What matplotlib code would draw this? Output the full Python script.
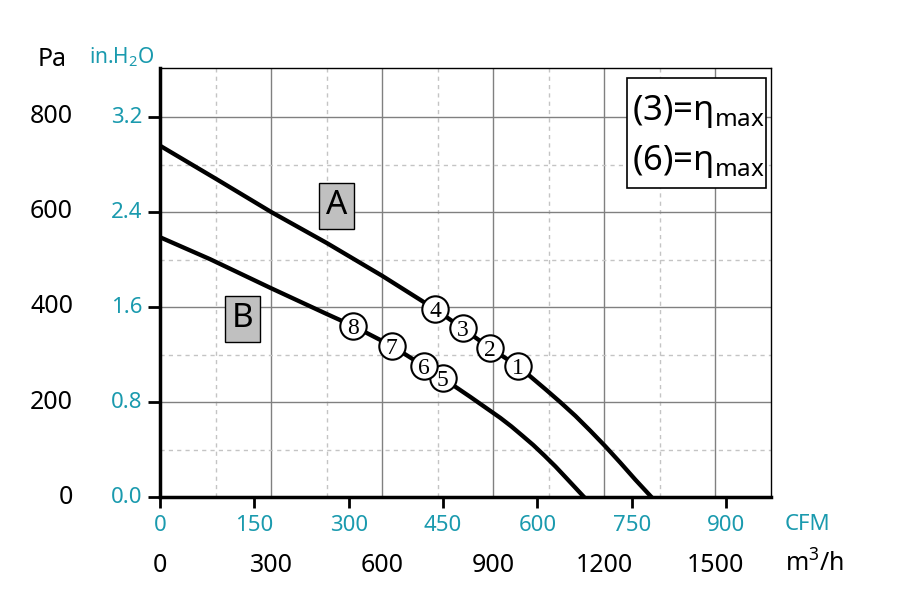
import numpy as np
import matplotlib
matplotlib.use('Agg')
import matplotlib.pyplot as plt
from matplotlib.transforms import offset_copy
from matplotlib.patches import Rectangle

plt.rcParams['font.family'] = ['Noto Sans', 'DejaVu Sans']
plt.rcParams['mathtext.fontset'] = 'custom'
plt.rcParams['mathtext.rm'] = 'Noto Sans'

PA_PER_INH2O = 249.089
M3H_PER_CFM = 1.69901
TEAL = '#1a9aae'

# fan curves, flow in m3/h, pressure in Pa
a_flow = [0, 150, 300, 450, 600, 743, 817, 892, 966, 1000, 1041, 1081, 1122,
          1162, 1203, 1243, 1284, 1327]
a_pres = [737, 668, 598, 533, 464, 394, 354, 312, 275, 253, 226, 199, 170,
          139, 106, 72, 36, 0]
b_flow = [0, 135, 300, 450, 521, 626, 712, 764, 838, 919, 949, 978, 1008,
          1038, 1068, 1097, 1127, 1145]
b_pres = [545, 499, 438, 384, 359, 317, 275, 249, 210, 166, 148, 129, 109,
          87, 64, 40, 15, 0]

# operating points
pt_labels = ['1', '2', '3', '4', '5', '6', '7', '8']
pt_flow = [966, 892, 817, 743, 764, 712, 626, 521]
pt_pres = [275, 312, 354, 394, 249, 275, 317, 359]

pa_ticks = [0, 200, 400, 600, 800]
inh2o_ticks = [0.0, 0.8, 1.6, 2.4, 3.2]
m3h_ticks = [0, 300, 600, 900, 1200, 1500]
cfm_ticks = [0, 150, 300, 450, 600, 750, 900]

fig = plt.figure(figsize=(8.97, 5.97), dpi=100)
ax = fig.add_axes([160 / 897, 100 / 597, 611 / 897, 429 / 597])
ax.set_xlim(0, 1650)
ax.set_ylim(0, 900)

# grid
for k in range(1, 11):
    f = k * 150
    if k % 2 == 0:
        ax.axvline(f, color='#808080', lw=1, zorder=1)
    else:
        ax.axvline(f, color='#c4c4c4', lw=1, ls=(0, (3, 3)), zorder=1)
for k in range(1, 9):
    p = k * 0.4 * PA_PER_INH2O
    if k % 2 == 0:
        ax.axhline(p, color='#808080', lw=1, zorder=1)
    else:
        ax.axhline(p, color='#c4c4c4', lw=1, ls=(0, (3, 3)), zorder=1)

# curves and points
ax.plot(a_flow, a_pres, color='black', lw=3.1, zorder=3)
ax.plot(b_flow, b_pres, color='black', lw=3.1, zorder=3)
ax.plot(pt_flow, pt_pres, 'o', ms=19, mfc='white', mec='black', mew=1.5, zorder=4)
for lab, x, y in zip(pt_labels, pt_flow, pt_pres):
    ax.text(x, y, lab, ha='center', va='center_baseline', fontsize=17,
            family=['Liberation Serif', 'DejaVu Serif'], zorder=5)

box = dict(boxstyle='square,pad=0.2', fc='#c0c0c0', ec='black', lw=1)
ax.text(476, 611, 'A', fontsize=24, ha='center', va='center', bbox=box, zorder=5)
ax.text(224, 374, 'B', fontsize=24, ha='center', va='center', bbox=box, zorder=5)

# legend box
ax.add_patch(Rectangle((0.764, 0.7196), 0.227, 0.2564, transform=ax.transAxes,
                       fc='white', ec='black', lw=1.2, zorder=6))
ax.text(0.7725, 0.8788, '(3)=η$_\\mathregular{max}$', transform=ax.transAxes,
        fontsize=25, va='baseline', zorder=7)
ax.text(0.7725, 0.7622, '(6)=η$_\\mathregular{max}$', transform=ax.transAxes,
        fontsize=25, va='baseline', zorder=7)

# spines and ticks
for s in ['left', 'bottom']:
    ax.spines[s].set_linewidth(2.5)
for s in ['top', 'right']:
    ax.spines[s].set_linewidth(1)
ax.set_xticks([c * M3H_PER_CFM for c in cfm_ticks])
ax.set_yticks([h * PA_PER_INH2O for h in inh2o_ticks])
ax.set_xticklabels([])
ax.set_yticklabels([])
ax.tick_params(axis='x', length=8, width=2, direction='out')
ax.tick_params(axis='y', length=9, width=2, direction='out')

# axis labels on two scales
ytr_pa = offset_copy(ax.get_yaxis_transform(), fig=fig, x=-87, y=-7, units='dots')
ytr_in = offset_copy(ax.get_yaxis_transform(), fig=fig, x=-18, y=-6, units='dots')
for v in pa_ticks:
    ax.text(0, v, str(v), transform=ytr_pa, ha='right', va='baseline', fontsize=18)
for h in inh2o_ticks:
    ax.text(0, h * PA_PER_INH2O, f'{h:.1f}', transform=ytr_in, ha='right',
            va='baseline', fontsize=16, color=TEAL, weight='light')

xtr_cfm = offset_copy(ax.get_xaxis_transform(), fig=fig, x=0, y=-34, units='dots')
xtr_m3h = offset_copy(ax.get_xaxis_transform(), fig=fig, x=0, y=-75, units='dots')
for c in cfm_ticks:
    ax.text(c * M3H_PER_CFM, 0, str(c), transform=xtr_cfm, ha='center',
            va='baseline', fontsize=16, color=TEAL, weight='light')
for m in m3h_ticks:
    ax.text(m, 0, str(m), transform=xtr_m3h, ha='center', va='baseline', fontsize=18)

fig.text(52.5 / 897, 1 - 66 / 597, 'Pa', ha='center', va='baseline', fontsize=18)
fig.text(121.7 / 897, 1 - 63 / 597, 'in.H$_\\mathregular{2}$O', ha='center',
         va='baseline', fontsize=15, color=TEAL, weight='light')
fig.text(785 / 897, 1 - 530 / 597, 'CFM', ha='left', va='baseline', fontsize=16,
         color=TEAL, weight='light')
fig.text(785 / 897, 1 - 572 / 597, 'm$^\\mathregular{3}$/h', ha='left', va='baseline',
         fontsize=18)

fig.savefig('out.png', dpi=100)
